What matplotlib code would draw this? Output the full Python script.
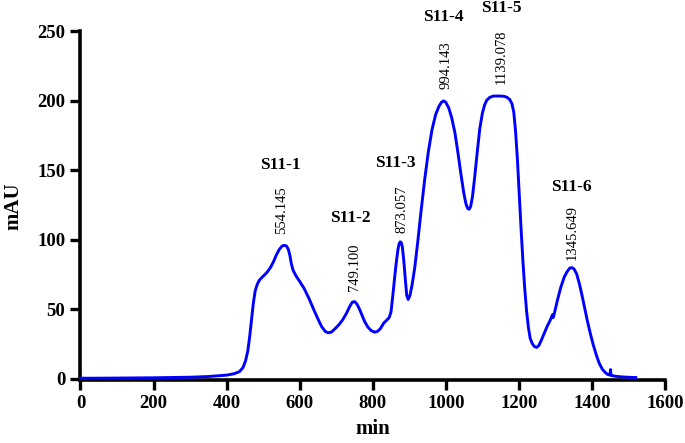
import matplotlib
matplotlib.use("Agg")
import matplotlib.pyplot as plt

# ---- data ----
time_min = [0, 50, 100, 150, 200, 250, 300, 350, 400, 420, 435, 445, 452, 458, 463, 468, 473, 478,
            484, 490, 497, 505, 512, 520, 528, 536, 544, 552, 558, 564, 569, 573, 577, 582, 590,
            600, 612, 625, 638, 650, 660, 670, 678, 687, 697, 708, 718, 728, 737, 744, 750, 756,
            763, 770, 778, 787, 796, 805, 813, 821, 830, 838, 845, 850, 855, 860, 865, 869, 872,
            875, 878, 881, 885, 889, 893, 897, 902, 908, 915, 923, 932, 942, 952, 962, 972, 981,
            988, 994, 1000, 1008, 1016, 1025, 1033, 1041, 1049, 1055, 1060, 1064, 1068, 1073,
            1079, 1086, 1093, 1100, 1106, 1112, 1120, 1130, 1140, 1150, 1160, 1168, 1175, 1181,
            1186, 1191, 1196, 1201, 1206, 1211, 1216, 1221, 1226, 1231, 1237, 1243, 1249, 1255,
            1262, 1270, 1278, 1284, 1289, 1292, 1294, 1298, 1306, 1315, 1324, 1332, 1339, 1345, 1351,
            1358, 1365, 1372, 1380, 1388, 1396, 1404, 1412, 1420, 1428, 1436, 1443, 1449, 1451,
            1452, 1455, 1462, 1475, 1490, 1505, 1520]
absorbance = [0.3, 0.3, 0.4, 0.5, 0.6, 0.8, 1.0, 1.5, 2.5, 3.5, 5, 8, 13, 20, 30, 42, 54, 63,
              68, 71, 73, 75, 77, 80, 84, 89, 93, 95.5, 96, 95.5, 93, 89, 83, 78, 74,
              70, 65, 58, 50, 43, 37.5, 34, 33, 33.5, 36, 39, 42.5, 47, 52, 55, 55.5, 54,
              50.5, 46, 41, 37, 34.5, 33.5, 34, 36, 40, 42, 44, 48, 60, 73, 85, 93, 97,
              98.5, 98, 95, 85, 72, 60, 57, 60, 68, 80, 98, 120, 143, 163, 179, 190, 196,
              199, 200, 199, 195, 188, 177, 163, 148, 134, 126, 122.5, 122, 124, 131,
              145, 163, 180, 191, 197, 200.5, 202.5, 203.5, 203.5, 203.5, 203.3, 202.5, 201, 198,
              192, 178, 158, 133, 108, 85, 65, 49, 37, 29, 25, 23, 22.5, 24,
              28, 33, 38, 41, 44, 46, 44, 48, 57, 66, 73, 77, 79.5, 80, 79,
              75.5, 69, 61, 51, 41, 32, 24, 17, 11, 7, 4.5, 3, 2.6, 6.5,
              2.4, 2.2, 1.8, 1.4, 1.1, 0.9, 0.8]

peak_names = ["S11-1", "S11-2", "S11-3", "S11-4", "S11-5", "S11-6"]
peak_times = ["554.145", "749.100", "873.057", "994.143", "1139.078", "1345.649"]
x_ticks = [0, 200, 400, 600, 800, 1000, 1200, 1400, 1600]
y_ticks = [0, 50, 100, 150, 200, 250]

# label anchor positions (data coords)
name_xy = [(548, 154), (738, 116), (863, 155), (993, 260.5), (1151, 267), (1345, 138)]
time_xy = [(551, 121), (751, 80.5), (881, 122), (1000, 225.5), (1153, 232), (1345, 105)]

# ---- figure ----
serif = "Liberation Serif"
fig = plt.figure(figsize=(6.85, 4.43), dpi=100)
ax = fig.add_axes([0.1175, 0.1422, 0.8533, 0.7867])

ax.plot(time_min, absorbance, color="#0000FF", lw=2.1, zorder=3, clip_on=False)

ax.set_xlim(0, 1600)
ax.set_ylim(-1, 250)
ax.set_xticks(x_ticks)
ax.set_yticks(y_ticks)
ax.set_xticklabels([str(v) for v in x_ticks], fontfamily=serif, fontweight="bold", fontsize=13.5)
ax.set_yticklabels([str(v) for v in y_ticks], fontfamily=serif, fontweight="bold", fontsize=13.5)

for s in ["top", "right"]:
    ax.spines[s].set_visible(False)
for s in ["left", "bottom"]:
    ax.spines[s].set_linewidth(2.6)
ax.tick_params(axis="both", direction="out", length=7, width=2.4, pad=4, color="black")

ax.set_xlabel("min", fontfamily=serif, fontweight="bold", fontsize=15, labelpad=5)
ax.set_ylabel("mAU", fontfamily=serif, fontweight="bold", fontsize=15, labelpad=10)

for name, (x, y) in zip(peak_names, name_xy):
    ax.text(x, y, name, ha="center", va="center", fontfamily=serif, fontweight="bold",
            fontsize=12.5, clip_on=False)
for t, (x, y) in zip(peak_times, time_xy):
    ax.text(x, y, t, ha="center", va="center", rotation=90, fontfamily=serif,
            fontsize=10.5, clip_on=False)

fig.savefig("out.png", dpi=100)
